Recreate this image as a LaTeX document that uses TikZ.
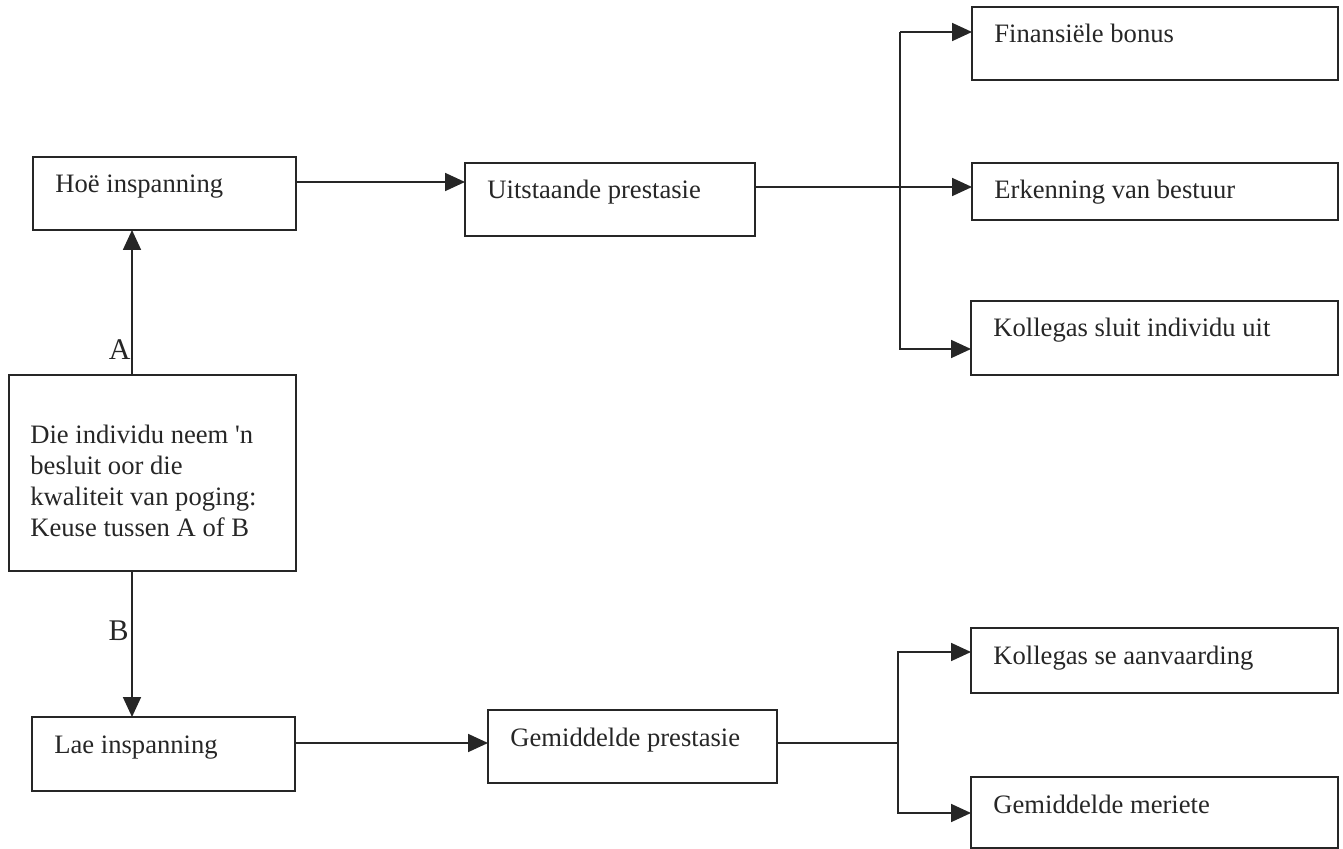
\documentclass[tikz,border=0pt]{standalone}
\usepackage{fontspec}
\setmainfont{Liberation Serif}
\usetikzlibrary{arrows.meta,calc}
\begin{document}
\begin{tikzpicture}[x=0.5pt,y=-0.5pt,
  box/.style={draw=black!85, line width=0.9pt, rectangle, inner sep=0pt, outer sep=0pt, anchor=north west},
  lbl/.style={anchor=base west, inner sep=0pt, xshift=11pt, yshift=-18pt, font=\fontsize{13.3}{15.5}\selectfont, text=black!85},
  arr/.style={draw=black!85, line width=0.9pt, -{Triangle[length=10pt,width=9pt]}},
  ln/.style={draw=black!85, line width=0.9pt},
  ab/.style={font=\fontsize{15}{18}\selectfont, inner sep=0pt, text=black!85}]
\useasboundingbox (0,0) rectangle (1343,849);

% boxes
\node[box, minimum width=131.5pt, minimum height=36.5pt,
  label={[lbl]north west:Hoë inspanning}] (hoe) at (33,157) {};
\node[box, minimum width=145pt, minimum height=36.5pt,
  label={[lbl]north west:Uitstaande prestasie}] (uit) at (465,163) {};
\node[box, minimum width=183pt, minimum height=36.5pt,
  label={[lbl]north west:Finansiële bonus}] (fin) at (972,7) {};
\node[box, minimum width=183pt, minimum height=28.5pt,
  label={[lbl]north west:Erkenning van bestuur}] (erk) at (972,163) {};
\node[box, minimum width=183.5pt, minimum height=37pt,
  label={[lbl]north west:Kollegas sluit individu uit}] (kol) at (971,301) {};
\node[box, minimum width=143.5pt, minimum height=98pt,
  label={[lbl, align=left, xshift=-0.5pt, yshift=-63pt]north west:{Die individu neem \textquotesingle n\\besluit oor die\\kwaliteit van poging:\\Keuse tussen A of B}}] (die) at (9,375) {};
\node[box, minimum width=131.5pt, minimum height=37pt,
  label={[lbl]north west:Lae inspanning}] (lae) at (32,717) {};
\node[box, minimum width=144.5pt, minimum height=36.5pt,
  label={[lbl]north west:Gemiddelde prestasie}] (gp) at (488,710) {};
\node[box, minimum width=183.5pt, minimum height=32.5pt,
  label={[lbl]north west:Kollegas se aanvaarding}] (ksa) at (971,628) {};
\node[box, minimum width=183.5pt, minimum height=35.5pt,
  label={[lbl]north west:Gemiddelde meriete}] (gm) at (971,777) {};

% helper coordinates
\coordinate (vx) at (132,0);
\coordinate (yh) at (0,182);
\coordinate (yf) at (0,32);
\coordinate (ye) at (0,187);
\coordinate (yk) at (0,349);
\coordinate (bt) at (900,0);
\coordinate (yl) at (0,743);
\coordinate (ya) at (0,652);
\coordinate (ym) at (0,813);
\coordinate (bb) at (898,0);

% connectors
\draw[arr] (die.north -| vx) -- (hoe.south -| vx);
\draw[arr] (die.south -| vx) -- (lae.north -| vx);
\node[ab, anchor=base east] (la) at (131,360) {A};
\node[ab, anchor=base east] (lb) at (129,640) {B};

\draw[arr] (hoe.east |- yh) -- (uit.west |- yh);
\draw[arr] (uit.east |- ye) -- (erk.west |- ye);
\draw[arr] (bt |- yf) -- (fin.west |- yf);
\draw[arr] (bt |- yf) -- (bt |- yk) -- (kol.west |- yk);

\draw[arr] (lae.east |- yl) -- (gp.west |- yl);
\draw[ln] (gp.east |- yl) -- (bb |- yl);
\draw[arr] (bb |- yl) -- (bb |- ya) -- (ksa.west |- ya);
\draw[arr] (bb |- yl) -- (bb |- ym) -- (gm.west |- ym);
\end{tikzpicture}
\end{document}
